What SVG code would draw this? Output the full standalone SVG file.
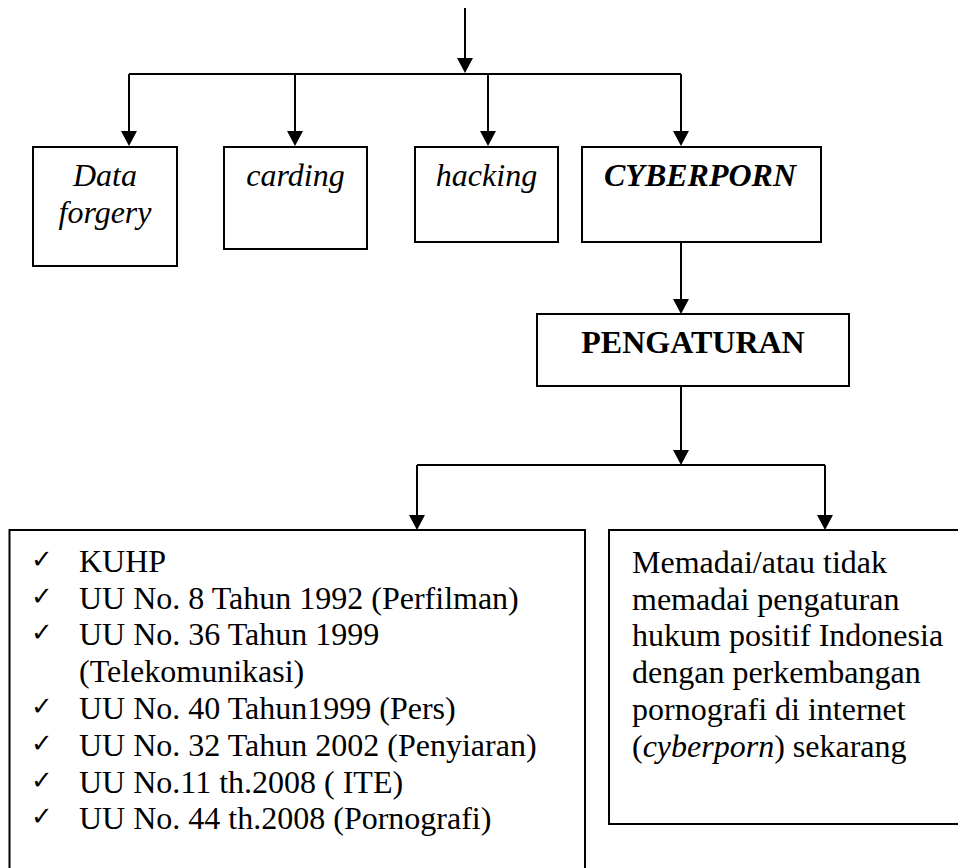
<svg xmlns="http://www.w3.org/2000/svg" width="958" height="868" viewBox="0 0 958 868">
<defs>
<marker id="ah" markerWidth="16" markerHeight="16" refX="9" refY="8" orient="auto" markerUnits="userSpaceOnUse"><path d="M0,0 L15,8 L0,16 z" fill="#000"/></marker>
<style>
.box{fill:#fff;stroke:#000;stroke-width:2}
.ln{fill:none;stroke:#000;stroke-width:2}
.arr{fill:none;stroke:#000;stroke-width:2;marker-end:url(#ah)}
.t{font-family:"Liberation Serif","Times New Roman",serif;font-size:32px;fill:#000}
.c{text-anchor:middle}
.i{font-style:italic}
.b{font-weight:bold}
.ck{font-family:"DejaVu Sans",sans-serif;font-size:26px;font-weight:bold;fill:#000}
</style>
</defs>
<rect width="958" height="868" fill="#fff"/>
<g id="connectors">
<path class="arr" d="M465,8 V67"/>
<path class="ln" d="M129,74 H681"/>
<path class="arr" d="M129,74 V140"/>
<path class="arr" d="M295,74 V140"/>
<path class="arr" d="M488,74 V140"/>
<path class="arr" d="M681,74 V140"/>
<path class="arr" d="M681,242 V308"/>
<path class="arr" d="M681,386 V459"/>
<path class="ln" d="M417,465 H825"/>
<path class="arr" d="M417,465 V524"/>
<path class="arr" d="M825,465 V524"/>
</g>
<g id="data-forgery">
<rect class="box" x="33" y="147" width="144" height="119"/>
<text class="t c i" x="105" y="186">Data</text>
<text class="t c i" x="105" y="223">forgery</text>
</g>
<g id="carding">
<rect class="box" x="224" y="147" width="143" height="102"/>
<text class="t c i" x="295.5" y="186">carding</text>
</g>
<g id="hacking">
<rect class="box" x="415" y="147" width="143" height="95"/>
<text class="t c i" x="486.5" y="186">hacking</text>
</g>
<g id="cyberporn">
<rect class="box" x="582" y="147" width="239" height="95"/>
<text class="t c i b" x="700" y="186">CYBERPORN</text>
</g>
<g id="pengaturan">
<rect class="box" x="537" y="314" width="312" height="72"/>
<text class="t c b" x="693" y="353">PENGATURAN</text>
</g>
<g id="laws">
<rect class="box" x="9.5" y="530" width="575.5" height="360"/>
<text class="ck" x="31" y="568">✓</text>
<text class="t" x="79" y="572">KUHP</text>
<text class="ck" x="31" y="605">✓</text>
<text class="t" x="79" y="609">UU No. 8 Tahun 1992 (Perfilman)</text>
<text class="ck" x="31" y="641">✓</text>
<text class="t" x="79" y="645">UU No. 36 Tahun 1999</text>
<text class="t" x="79" y="682">(Telekomunikasi)</text>
<text class="ck" x="31" y="715">✓</text>
<text class="t" x="79" y="719">UU No. 40 Tahun1999 (Pers)</text>
<text class="ck" x="31" y="752">✓</text>
<text class="t" x="79" y="756">UU No. 32 Tahun 2002 (Penyiaran)</text>
<text class="ck" x="31" y="789">✓</text>
<text class="t" x="79" y="793">UU No.11 th.2008 ( ITE)</text>
<text class="ck" x="31" y="825">✓</text>
<text class="t" x="79" y="829">UU No. 44 th.2008 (Pornografi)</text>
</g>
<g id="assessment">
<rect class="box" x="609" y="530" width="360" height="294"/>
<text class="t" x="632" y="573">Memadai/atau tidak</text>
<text class="t" x="632" y="610">memadai pengaturan</text>
<text class="t" x="632" y="646">hukum positif Indonesia</text>
<text class="t" x="632" y="683">dengan perkembangan</text>
<text class="t" x="632" y="720">pornografi di internet</text>
<text class="t" x="632" y="757">(<tspan class="i">cyberporn</tspan>) sekarang</text>
</g>
</svg>
